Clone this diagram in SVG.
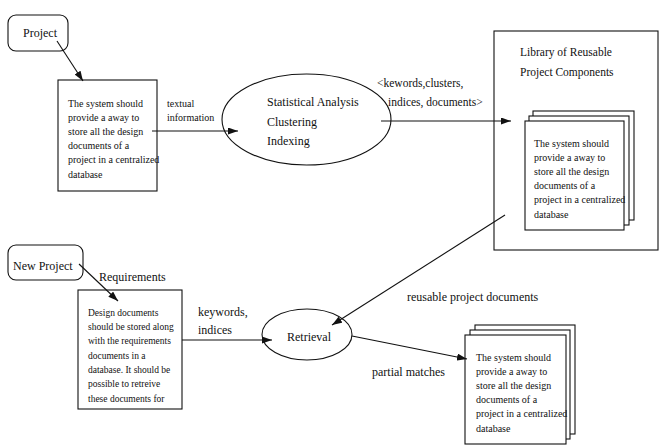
<svg xmlns="http://www.w3.org/2000/svg" width="663" height="447" viewBox="0 0 663 447">
<defs>
<marker id="ah" markerUnits="userSpaceOnUse" markerWidth="10" markerHeight="7" refX="10" refY="3.5" orient="auto"><path d="M0,0 L10,3.5 L0,7 z" fill="#111"/></marker>
<style>
.s{fill:none;stroke:#111;stroke-width:1.1}
.b{fill:#fff;stroke:#111;stroke-width:1.1}
.c{fill:none;stroke:#111;stroke-width:1.1;marker-end:url(#ah)}
text{font-family:"Liberation Serif","Times New Roman",serif;fill:#111}
.t10{font-size:10px}
.t95{font-size:9.5px}
.t11{font-size:11.5px}
.t12{font-size:12px}
</style>
</defs>
<rect width="663" height="447" fill="#fff"/>

<g id="project">
<rect class="s" x="8" y="15" width="60" height="36" rx="8"/>
<text class="t12" x="23" y="37">Project</text>
</g>

<g id="doc1">
<rect class="s" x="58" y="80" width="99" height="111"/>
<text class="t10" x="68" y="106.5">The system should</text>
<text class="t10" x="68" y="120.7">provide a away to</text>
<text class="t10" x="68" y="134.9">store all the design</text>
<text class="t10" x="68" y="149.1">documents of a</text>
<text class="t10" x="68" y="163.3">project in a centralized</text>
<text class="t10" x="68" y="177.5">database</text>
</g>

<g id="analysis">
<ellipse class="s" cx="306.5" cy="119.5" rx="84.5" ry="45.5"/>
<text class="t12" x="267" y="106">Statistical Analysis</text>
<text class="t12" x="267" y="126">Clustering</text>
<text class="t12" x="267" y="145">Indexing</text>
</g>

<g id="library">
<rect class="s" x="494" y="31" width="164" height="219"/>
<text class="t11" x="520" y="56">Library of Reusable</text>
<text class="t11" x="520" y="76">Project Components</text>
<rect class="b" x="533" y="111" width="101" height="109"/>
<rect class="b" x="529" y="116" width="100" height="109"/>
<rect class="b" x="525" y="121" width="99" height="109"/>
<text class="t10" x="534" y="146.5">The system should</text>
<text class="t10" x="534" y="160.7">provide a away to</text>
<text class="t10" x="534" y="174.9">store all the design</text>
<text class="t10" x="534" y="189.1">documents of a</text>
<text class="t10" x="534" y="203.3">project in a centralized</text>
<text class="t10" x="534" y="217.5">database</text>
</g>

<g id="newproject">
<rect class="s" x="8" y="245" width="75" height="35" rx="8"/>
<text class="t12" x="13" y="270">New Project</text>
</g>

<g id="doc2">
<rect class="s" x="78" y="290" width="104" height="119"/>
<text class="t95" x="88" y="315.5">Design documents</text>
<text class="t95" x="88" y="329.8">should be stored along</text>
<text class="t95" x="88" y="344.2">with the requirements</text>
<text class="t95" x="88" y="358.5">documents in a</text>
<text class="t95" x="88" y="372.8">database. It should be</text>
<text class="t95" x="88" y="387.2">possible to retreive</text>
<text class="t95" x="88" y="401.5">these documents for</text>
</g>

<g id="retrieval">
<ellipse class="s" cx="307" cy="334.5" rx="45" ry="25.5"/>
<text class="t12" x="287" y="341">Retrieval</text>
</g>

<g id="matches">
<rect class="b" x="475" y="325" width="100" height="109"/>
<rect class="b" x="470" y="330" width="100" height="109"/>
<rect class="b" x="465" y="335" width="101" height="109"/>
<text class="t10" x="476" y="360.5">The system should</text>
<text class="t10" x="476" y="374.7">provide a away to</text>
<text class="t10" x="476" y="388.9">store all the design</text>
<text class="t10" x="476" y="403.1">documents of a</text>
<text class="t10" x="476" y="417.3">project in a centralized</text>
<text class="t10" x="476" y="431.5">database</text>
</g>

<g id="connectors">
<line class="c" x1="57" y1="41" x2="83" y2="81"/>
<line class="c" x1="152" y1="131" x2="238" y2="131"/>
<text class="t10" x="167" y="106.5">textual</text>
<text class="t10" x="167" y="120.5">information</text>
<line class="c" x1="381" y1="121" x2="511" y2="121"/>
<text class="t11" x="377" y="87">&lt;kewords,clusters,</text>
<text class="t11" x="388" y="106">indices, documents&gt;</text>
<line class="c" x1="505" y1="215" x2="332" y2="325"/>
<text class="t12" x="407" y="301">reusable project documents</text>
<line class="c" x1="79" y1="264" x2="118" y2="301"/>
<text class="t12" x="99" y="281">Requirements</text>
<line class="c" x1="182" y1="340" x2="272" y2="340"/>
<text class="t12" x="198" y="316">keywords,</text>
<text class="t12" x="198" y="334">indices</text>
<line class="c" x1="352" y1="336" x2="467" y2="359"/>
<text class="t12" x="372" y="376">partial matches</text>
</g>
</svg>
